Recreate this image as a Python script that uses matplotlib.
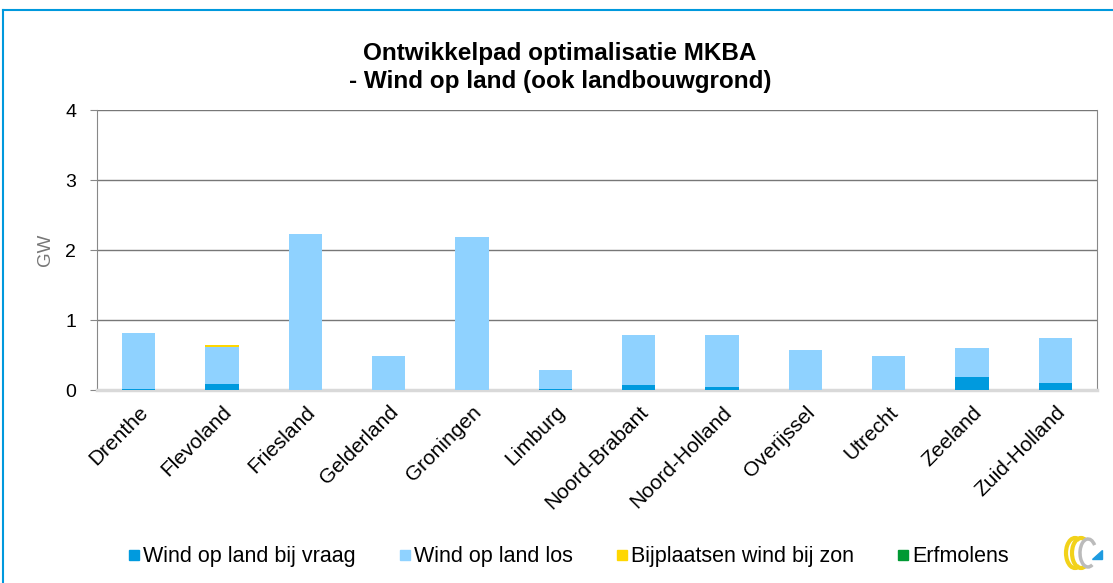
import matplotlib
matplotlib.use("Agg")
from matplotlib import pyplot as plt
from matplotlib.lines import Line2D
from matplotlib.patches import Arc, Polygon
import numpy as np

plt.rcParams['font.family'] = ['Liberation Sans', 'DejaVu Sans']

provinces = ["Drenthe", "Flevoland", "Friesland", "Gelderland", "Groningen", "Limburg",
             "Noord-Brabant", "Noord-Holland", "Overijssel", "Utrecht", "Zeeland", "Zuid-Holland"]
bij_vraag = [0.02, 0.09, 0.0, 0.0, 0.0, 0.02, 0.07, 0.04, 0.0, 0.0, 0.18, 0.10]
los = [0.80, 0.53, 2.23, 0.48, 2.19, 0.26, 0.72, 0.75, 0.57, 0.49, 0.42, 0.65]
bij_zon = [0.0, 0.03, 0.0, 0.0, 0.0, 0.0, 0.0, 0.0, 0.0, 0.0, 0.0, 0.0]
erfmolens = [0.0] * 12

series_names = ["Wind op land bij vraag", "Wind op land los", "Bijplaatsen wind bij zon", "Erfmolens"]
colors = ["#009ADE", "#8FD2FF", "#FFD700", "#009933"]

fig = plt.figure(figsize=(11.13, 5.83), dpi=100)
ax = fig.add_axes([0.0872, 0.331, 0.8984, 0.480])

x = np.arange(len(provinces))
bottom = np.zeros(len(provinces))
for vals, col in zip([bij_vraag, los, bij_zon, erfmolens], colors):
    vals = np.array(vals)
    ax.bar(x, vals, width=0.4, bottom=bottom, color=col, zorder=3)
    bottom += vals

ax.set_xlim(-0.5, len(provinces) - 0.5)
ax.set_ylim(0, 4)
ax.set_yticks([0, 1, 2, 3, 4])
ax.yaxis.grid(True, color="#777777", linewidth=1.0, zorder=0)
ax.tick_params(axis="y", labelsize=14, length=5, color="#888888", pad=10)
ax.tick_params(axis="x", length=0, pad=9)
ax.set_xticks(x)
ax.set_xticklabels(provinces, rotation=45, ha="right", rotation_mode="anchor", fontsize=15)
ax.set_ylabel("GW", fontsize=13.5, color="#777777", labelpad=8)

ax.spines["top"].set_visible(False)
ax.spines["right"].set_color("#888888")
ax.spines["left"].set_color("#888888")
ax.spines["bottom"].set_color("#d9d9d9")
ax.spines["bottom"].set_linewidth(2.5)

fig.text(0.503, 0.909, "Ontwikkelpad optimalisatie MKBA", ha="center", va="center",
         fontsize=17.5, fontweight="bold")
fig.text(0.503, 0.861, "- Wind op land (ook landbouwgrond)", ha="center", va="center",
         fontsize=17.5, fontweight="bold")

handles = [Line2D([], [], marker="s", linestyle="", markersize=7, color=c) for c in colors]
fig.legend(handles, series_names, loc="center", bbox_to_anchor=(0.51, 0.045), ncol=4,
           frameon=False, fontsize=15.5, handletextpad=0.1, columnspacing=1.9,
           handlelength=0.7)

# blue frame lines along the top and left edge
fig.add_artist(Line2D([0.003, 1.0], [0.983, 0.983], color="#0099DD", linewidth=1.5,
                      transform=fig.transFigure))
fig.add_artist(Line2D([0.003, 0.003], [0.0, 0.983], color="#0099DD", linewidth=1.5,
                      transform=fig.transFigure))

# small logo in the bottom right corner
logo = fig.add_axes([1058 / 1113, 1 - 572 / 583, 48 / 1113, 38 / 583])
logo.set_xlim(0, 48)
logo.set_ylim(0, 38)
logo.axis("off")
logo.add_patch(Arc((17, 19), 18, 30, theta1=70, theta2=290, color="#F2D21A", linewidth=3))
logo.add_patch(Arc((23, 19), 18, 30, theta1=70, theta2=290, color="#F2D21A", linewidth=3))
logo.add_patch(Arc((30, 19), 16, 28, theta1=50, theta2=290, color="#BBBBBB", linewidth=2.5))
logo.add_patch(Polygon([[34, 13], [44, 13], [44, 22]], closed=True, color="#1E9BE0"))

fig.savefig("out.png", dpi=100)
